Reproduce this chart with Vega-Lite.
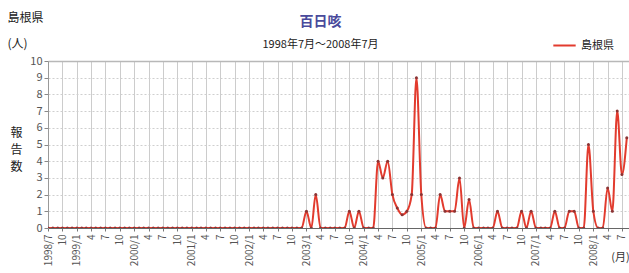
{
  "$schema": "https://vega.github.io/schema/vega-lite/v6.json",
  "width": 581,
  "height": 167,
  "autosize": {"type": "none"},
  "padding": {"left": 48, "top": 61, "right": 0, "bottom": 45},
  "background": "white",
  "config": {
    "font": "Noto Sans CJK JP",
    "view": {"stroke": null}
  },
  "title": {
    "text": "百日咳",
    "subtitle": "1998年7月～2008年7月",
    "anchor": "middle",
    "dx": -18,
    "offset": -39,
    "fontSize": 14,
    "fontWeight": "bold",
    "color": "#4a4a9c",
    "subtitleFontSize": 11,
    "subtitleColor": "#222",
    "subtitlePadding": 10
  },
  "data": {
    "values": [
      {"month": "1998/07/01", "count": 0}, {"month": "1998/08/01", "count": 0}, {"month": "1998/09/01", "count": 0},
      {"month": "1998/10/01", "count": 0}, {"month": "1998/11/01", "count": 0}, {"month": "1998/12/01", "count": 0},
      {"month": "1999/01/01", "count": 0}, {"month": "1999/02/01", "count": 0}, {"month": "1999/03/01", "count": 0},
      {"month": "1999/04/01", "count": 0}, {"month": "1999/05/01", "count": 0}, {"month": "1999/06/01", "count": 0},
      {"month": "1999/07/01", "count": 0}, {"month": "1999/08/01", "count": 0}, {"month": "1999/09/01", "count": 0},
      {"month": "1999/10/01", "count": 0}, {"month": "1999/11/01", "count": 0}, {"month": "1999/12/01", "count": 0},
      {"month": "2000/01/01", "count": 0}, {"month": "2000/02/01", "count": 0}, {"month": "2000/03/01", "count": 0},
      {"month": "2000/04/01", "count": 0}, {"month": "2000/05/01", "count": 0}, {"month": "2000/06/01", "count": 0},
      {"month": "2000/07/01", "count": 0}, {"month": "2000/08/01", "count": 0}, {"month": "2000/09/01", "count": 0},
      {"month": "2000/10/01", "count": 0}, {"month": "2000/11/01", "count": 0}, {"month": "2000/12/01", "count": 0},
      {"month": "2001/01/01", "count": 0}, {"month": "2001/02/01", "count": 0}, {"month": "2001/03/01", "count": 0},
      {"month": "2001/04/01", "count": 0}, {"month": "2001/05/01", "count": 0}, {"month": "2001/06/01", "count": 0},
      {"month": "2001/07/01", "count": 0}, {"month": "2001/08/01", "count": 0}, {"month": "2001/09/01", "count": 0},
      {"month": "2001/10/01", "count": 0}, {"month": "2001/11/01", "count": 0}, {"month": "2001/12/01", "count": 0},
      {"month": "2002/01/01", "count": 0}, {"month": "2002/02/01", "count": 0}, {"month": "2002/03/01", "count": 0},
      {"month": "2002/04/01", "count": 0}, {"month": "2002/05/01", "count": 0}, {"month": "2002/06/01", "count": 0},
      {"month": "2002/07/01", "count": 0}, {"month": "2002/08/01", "count": 0}, {"month": "2002/09/01", "count": 0},
      {"month": "2002/10/01", "count": 0}, {"month": "2002/11/01", "count": 0}, {"month": "2002/12/01", "count": 0},
      {"month": "2003/01/01", "count": 1}, {"month": "2003/02/01", "count": 0}, {"month": "2003/03/01", "count": 2},
      {"month": "2003/04/01", "count": 0}, {"month": "2003/05/01", "count": 0}, {"month": "2003/06/01", "count": 0},
      {"month": "2003/07/01", "count": 0}, {"month": "2003/08/01", "count": 0}, {"month": "2003/09/01", "count": 0},
      {"month": "2003/10/01", "count": 1}, {"month": "2003/11/01", "count": 0}, {"month": "2003/12/01", "count": 1},
      {"month": "2004/01/01", "count": 0}, {"month": "2004/02/01", "count": 0}, {"month": "2004/03/01", "count": 0},
      {"month": "2004/04/01", "count": 4}, {"month": "2004/05/01", "count": 3}, {"month": "2004/06/01", "count": 4},
      {"month": "2004/07/01", "count": 2}, {"month": "2004/08/01", "count": 1.2}, {"month": "2004/09/01", "count": 0.8},
      {"month": "2004/10/01", "count": 1}, {"month": "2004/11/01", "count": 2}, {"month": "2004/12/01", "count": 9},
      {"month": "2005/01/01", "count": 2}, {"month": "2005/02/01", "count": 0}, {"month": "2005/03/01", "count": 0},
      {"month": "2005/04/01", "count": 0}, {"month": "2005/05/01", "count": 2}, {"month": "2005/06/01", "count": 1},
      {"month": "2005/07/01", "count": 1}, {"month": "2005/08/01", "count": 1}, {"month": "2005/09/01", "count": 3},
      {"month": "2005/10/01", "count": 0}, {"month": "2005/11/01", "count": 1.7}, {"month": "2005/12/01", "count": 0},
      {"month": "2006/01/01", "count": 0}, {"month": "2006/02/01", "count": 0}, {"month": "2006/03/01", "count": 0},
      {"month": "2006/04/01", "count": 0}, {"month": "2006/05/01", "count": 1}, {"month": "2006/06/01", "count": 0},
      {"month": "2006/07/01", "count": 0}, {"month": "2006/08/01", "count": 0}, {"month": "2006/09/01", "count": 0},
      {"month": "2006/10/01", "count": 1}, {"month": "2006/11/01", "count": 0}, {"month": "2006/12/01", "count": 1},
      {"month": "2007/01/01", "count": 0}, {"month": "2007/02/01", "count": 0}, {"month": "2007/03/01", "count": 0},
      {"month": "2007/04/01", "count": 0}, {"month": "2007/05/01", "count": 1}, {"month": "2007/06/01", "count": 0},
      {"month": "2007/07/01", "count": 0}, {"month": "2007/08/01", "count": 1}, {"month": "2007/09/01", "count": 1},
      {"month": "2007/10/01", "count": 0}, {"month": "2007/11/01", "count": 0}, {"month": "2007/12/01", "count": 5},
      {"month": "2008/01/01", "count": 1}, {"month": "2008/02/01", "count": 0}, {"month": "2008/03/01", "count": 0},
      {"month": "2008/04/01", "count": 2.4}, {"month": "2008/05/01", "count": 1}, {"month": "2008/06/01", "count": 7},
      {"month": "2008/07/01", "count": 3.2}, {"month": "2008/08/01", "count": 5.4}
    ]
  },
  "layer": [
    {
      "mark": {"type": "line", "strokeWidth": 2, "interpolate": "monotone", "clip": true},
      "encoding": {
        "x": {
          "field": "month",
          "type": "temporal",
          "scale": {"domain": [{"year": 1998, "month": 7, "date": 1}, {"year": 2008, "month": 8, "date": 15}]},
          "axis": {
            "tickCount": {"interval": "month", "step": 3},
            "labelExpr": "month(datum.value) == 0 || (year(datum.value) == 1998 && month(datum.value) == 6) ? timeFormat(datum.value, '%Y/%-m') : timeFormat(datum.value, '%-m')",
            "labelAngle": 270,
            "labelFontSize": 10,
            "labelColor": "#555",
            "labelOverlap": false,
            "labelFlush": false,
            "labelPadding": 3,
            "tickSize": 3,
            "tickColor": "#777",
            "domainColor": "#666",
            "gridColor": "#cccccc",
            "gridWidth": 1,
            "title": "(月)",
            "titleFontSize": 11,
            "titleFontWeight": "normal",
            "titleColor": "#333",
            "titleX": 572,
            "titleY": 29,
            "titleAlign": "center",
            "titleBaseline": "middle",
            "titleAngle": 0
          }
        },
        "y": {
          "field": "count",
          "type": "quantitative",
          "scale": {"domain": [0, 10]},
          "axis": {
            "values": [0, 1, 2, 3, 4, 5, 6, 7, 8, 9, 10],
            "labelFontSize": 11,
            "labelColor": "#555",
            "tickSize": 4,
            "tickColor": "#888",
            "domainColor": "#999",
            "labelPadding": 2,
            "gridColor": {"condition": {"test": "datum.value == 10", "value": "#b8b8b8"}, "value": "#cfcfcf"},
            "gridDash": {"condition": {"test": "datum.value == 10", "value": []}, "value": [2, 2]},
            "gridWidth": {"condition": {"test": "datum.value == 10", "value": 1.5}, "value": 1},
            "title": ["島根県", "(人)"],
            "titleAngle": 0,
            "titleAlign": "left",
            "titleBaseline": "top",
            "titleX": -41,
            "titleY": -49,
            "titleLineHeight": 26,
            "titleFontSize": 12,
            "titleFontWeight": "normal",
            "titleColor": "#222"
          }
        },
        "color": {
          "datum": "島根県",
          "type": "nominal",
          "scale": {"range": ["#e23b2e"]},
          "legend": {
            "orient": "none",
            "legendX": 504,
            "legendY": -28,
            "title": null,
            "symbolType": "stroke",
            "symbolSize": 500,
            "symbolStrokeWidth": 2,
            "labelFontSize": 11,
            "labelColor": "#222"
          }
        }
      }
    },
    {
      "mark": {"type": "point", "filled": true, "size": 9, "color": "#8b3434", "opacity": 1, "clip": true},
      "encoding": {
        "x": {"field": "month", "type": "temporal"},
        "y": {
          "field": "count",
          "type": "quantitative",
          "axis": {
            "orient": "left",
            "labels": false,
            "ticks": false,
            "domain": false,
            "grid": false,
            "title": ["報", "告", "数"],
            "titleAngle": 0,
            "titleAlign": "center",
            "titleBaseline": "top",
            "titleX": -32,
            "titleY": 66,
            "titleLineHeight": 17,
            "titleFontSize": 12,
            "titleFontWeight": "normal",
            "titleColor": "#222"
          }
        }
      }
    }
  ],
  "resolve": {"axis": {"y": "independent"}}
}
